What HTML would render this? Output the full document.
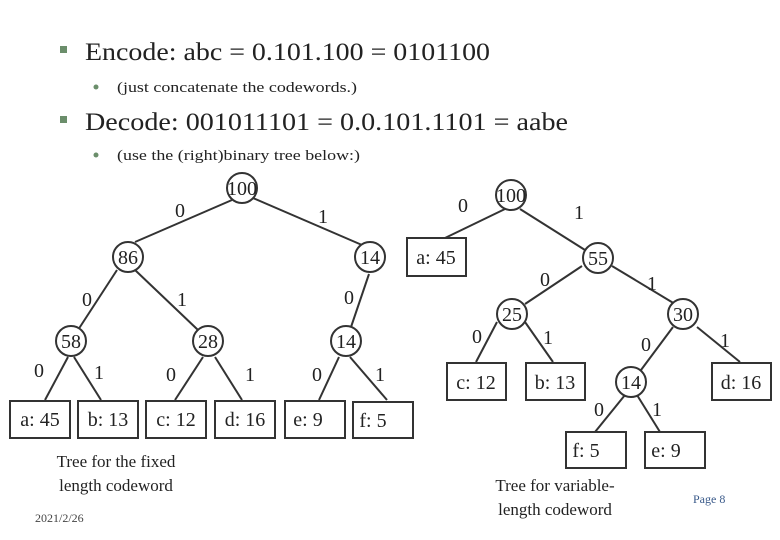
<!DOCTYPE html>
<html><head><meta charset="utf-8"><style>
html,body{margin:0;padding:0;background:#fff;}
svg{display:block;font-family:"Liberation Serif",serif;}
</style></head><body>
<svg width="780" height="540" viewBox="0 0 780 540" xmlns="http://www.w3.org/2000/svg">
<rect width="780" height="540" fill="#fff"/>
<g fill="#6b8e6b"><rect x="60" y="46" width="7" height="7"/><rect x="60" y="116" width="7" height="7"/></g>
<g fill="#6b8e6b"><circle cx="96" cy="87" r="2.5"/><circle cx="96" cy="155" r="2.5"/></g>
<g fill="#222">
<text x="85" y="60" font-size="25" textLength="405" lengthAdjust="spacingAndGlyphs">Encode: abc = 0.101.100 = 0101100</text>
<text x="117" y="92" font-size="15" textLength="240" lengthAdjust="spacingAndGlyphs">(just concatenate the codewords.)</text>
<text x="85" y="130" font-size="25" textLength="483" lengthAdjust="spacingAndGlyphs">Decode: 001011101 = 0.0.101.1101 = aabe</text>
<text x="117" y="160" font-size="15" textLength="243" lengthAdjust="spacingAndGlyphs">(use the (right)binary tree below:)</text>
</g>
<g stroke="#333" stroke-width="2" fill="none">
<line x1="232" y1="200" x2="135" y2="242"/><line x1="253" y1="198" x2="362" y2="245"/>
<line x1="117" y1="270" x2="78" y2="330"/><line x1="135" y1="270" x2="198" y2="330"/>
<line x1="369" y1="274" x2="350" y2="330"/>
<line x1="68" y1="357" x2="45" y2="400"/><line x1="74" y1="357" x2="101" y2="400"/>
<line x1="203" y1="357" x2="175" y2="400"/><line x1="215" y1="357" x2="242" y2="400"/>
<line x1="339" y1="357" x2="319" y2="400"/><line x1="350" y1="357" x2="387" y2="400"/>
<line x1="505" y1="209" x2="445" y2="238"/><line x1="520" y1="209" x2="585" y2="250"/>
<line x1="582" y1="266" x2="525" y2="304"/><line x1="612" y1="266" x2="675" y2="304"/>
<line x1="497" y1="322" x2="476" y2="362"/><line x1="525" y1="322" x2="553" y2="362"/>
<line x1="673" y1="327" x2="641" y2="370"/><line x1="697" y1="327" x2="740" y2="362"/>
<line x1="625" y1="395" x2="595" y2="432"/><line x1="637" y1="395" x2="660" y2="432"/>
</g>
<g stroke="#333" stroke-width="2" fill="#fff">
<circle cx="242" cy="188" r="15"/><circle cx="128" cy="257" r="15"/><circle cx="370" cy="257" r="15"/>
<circle cx="71" cy="341" r="15"/><circle cx="208" cy="341" r="15"/><circle cx="346" cy="341" r="15"/>
<circle cx="511" cy="195" r="15"/><circle cx="598" cy="258" r="15"/><circle cx="512" cy="314" r="15"/>
<circle cx="683" cy="314" r="15"/><circle cx="631" cy="382" r="15"/>
<rect x="10" y="401" width="60" height="37"/><rect x="78" y="401" width="60" height="37"/>
<rect x="146" y="401" width="60" height="37"/><rect x="215" y="401" width="60" height="37"/>
<rect x="285" y="401" width="60" height="37"/><rect x="353" y="402" width="60" height="36"/>
<rect x="407" y="238" width="59" height="38"/><rect x="447" y="363" width="59" height="37"/>
<rect x="526" y="363" width="59" height="37"/><rect x="712" y="363" width="59" height="37"/>
<rect x="566" y="432" width="60" height="36"/><rect x="645" y="432" width="60" height="36"/>
</g>
<g fill="#222" font-size="20" text-anchor="middle">
<text x="242" y="195">100</text><text x="128" y="264">86</text><text x="370" y="264">14</text>
<text x="71" y="348">58</text><text x="208" y="348">28</text><text x="346" y="348">14</text>
<text x="511" y="202">100</text><text x="598" y="265">55</text><text x="512" y="321">25</text>
<text x="683" y="321">30</text><text x="631" y="389">14</text>
<text x="40" y="426">a: 45</text><text x="108" y="426">b: 13</text><text x="176" y="426">c: 12</text>
<text x="245" y="426">d: 16</text><text x="308" y="426">e: 9</text><text x="373" y="427">f: 5</text>
<text x="436" y="264">a: 45</text><text x="476" y="389">c: 12</text><text x="555" y="389">b: 13</text>
<text x="741" y="389">d: 16</text><text x="586" y="457">f: 5</text><text x="666" y="457">e: 9</text>
<text x="180" y="217">0</text><text x="323" y="223">1</text>
<text x="87" y="306">0</text><text x="182" y="306">1</text><text x="349" y="304">0</text>
<text x="39" y="377">0</text><text x="99" y="379">1</text><text x="171" y="381">0</text>
<text x="250" y="381">1</text><text x="317" y="381">0</text><text x="380" y="381">1</text>
<text x="463" y="212">0</text><text x="579" y="219">1</text><text x="545" y="286">0</text>
<text x="652" y="290">1</text><text x="477" y="343">0</text><text x="548" y="344">1</text>
<text x="646" y="351">0</text><text x="725" y="347">1</text><text x="599" y="416">0</text>
<text x="657" y="416">1</text>
</g>
<g fill="#222" font-size="17" text-anchor="middle">
<text x="116" y="467">Tree for the fixed</text><text x="116" y="491">length codeword</text>
<text x="555" y="491">Tree  for variable-</text><text x="555" y="515">length codeword</text>
</g>
<text x="35" y="522" font-size="12" fill="#444">2021/2/26</text>
<text x="693" y="503" font-size="12" fill="#3a5a8a">Page 8</text>
</svg>
</body></html>
